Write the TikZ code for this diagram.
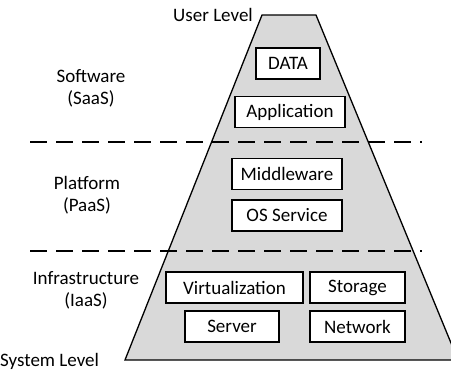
\documentclass[tikz,border=0pt]{standalone}
\usepackage{fontspec}
\setmainfont{Carlito}
\begin{document}
\begin{tikzpicture}[x=1pt,y=-1pt,font=\fontsize{19}{22}\selectfont,
    layer/.style={draw,fill=white,line width=1.2pt,minimum height=31pt,inner sep=0pt},
    tier/.style={align=center,inner sep=0pt}]
    \useasboundingbox (0,0) rectangle (451,370);
    \draw[fill=gray!30,line width=1.3pt] (262,15)--(316,15)--(458,360)--(125,360)--cycle;
    \draw[line width=1.5pt,dash pattern=on 17pt off 9pt] (30,142)--(422,142);
    \draw[line width=1.5pt,dash pattern=on 17pt off 9pt] (30,251)--(422,251);
    \node[layer,minimum width=64pt] (data) at (288,63.5) {DATA};
    \node[layer,minimum width=110pt] (app) at (290,112) {Application};
    \node[layer,minimum width=110pt] (middleware) at (287,174) {Middleware};
    \node[layer,minimum width=110pt] (os) at (287,215.5) {OS Service};
    \node[layer,minimum width=137pt] (virt) at (234.5,287.5) {Virtualization};
    \node[layer,minimum width=95pt] (storage) at (357.5,287.5) {Storage};
    \node[layer,minimum width=94pt] (server) at (232,326.5) {Server};
    \node[layer,minimum width=95pt] (network) at (357.5,326.5) {Network};
    \node[tier,anchor=east] (user) at (253,15) {User Level};
    \node[tier] (saas) at (91,88.5) {Software\\(SaaS)};
    \node[tier] (paas) at (87,195) {Platform\\(PaaS)};
    \node[tier] (iaas) at (86,290.5) {Infrastructure\\(IaaS)};
    \node[tier,anchor=west] (system) at (0,361) {System Level};
\end{tikzpicture}
\end{document}
